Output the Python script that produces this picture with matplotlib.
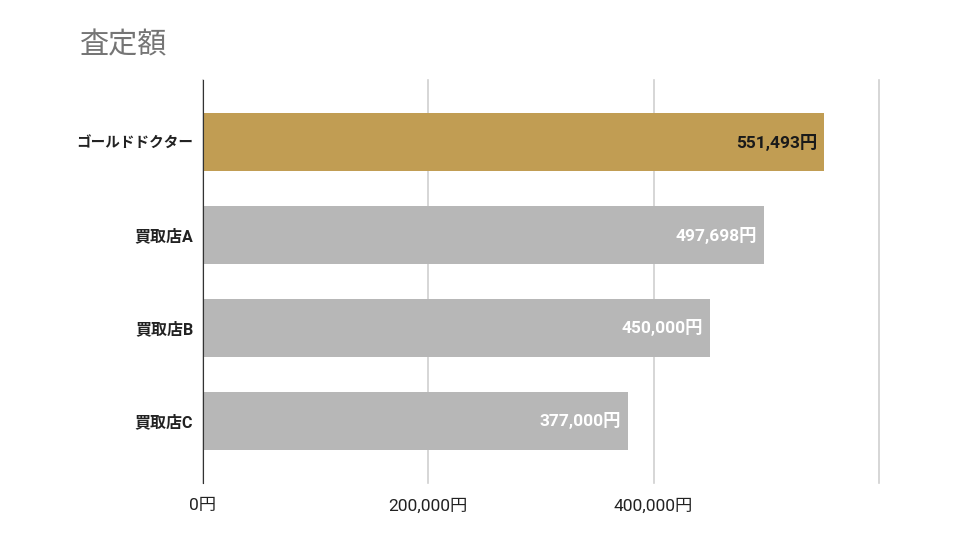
import matplotlib
matplotlib.use("Agg")
import matplotlib.pyplot as plt

plt.rcParams['font.family'] = ['Roboto', 'Noto Sans CJK JP', 'DejaVu Sans']

# dati
shops = ["ゴールドドクター", "買取店A", "買取店B", "買取店C"]
prices = [551493, 497698, 450000, 377000]
bar_colors = ["#C19D53", "#B7B7B7", "#B7B7B7", "#B7B7B7"]
label_colors = ["#1a1a1a", "white", "white", "white"]
xticks = [0, 200000, 400000, 600000]
xtick_labels = ["0円", "200,000円", "400,000円", ""]

fig = plt.figure(figsize=(9.6, 5.4), dpi=100)
ax = fig.add_axes([203 / 960, 57 / 540, 676 / 960, 403 / 540])

y = list(range(len(shops)))
ax.barh(y, prices, height=0.63, color=bar_colors, zorder=3)

for i, (p, c) in enumerate(zip(prices, label_colors)):
    ax.text(p - 6000, i, f"{p:,}円", ha="right", va="center",
            fontsize=12.5, fontweight="bold", color=c, zorder=4)

ax.set_xlim(0, 600000)
ax.set_ylim(3.667, -0.667)
ax.set_xticks(xticks)
ax.set_xticklabels(xtick_labels, fontsize=12.5, color="#222222")
ax.set_yticks(y)
ax.set_yticklabels(shops, fontsize=11.5, fontweight="bold", color="#222222")
# la ゴールドドクター nel riferimento è più stretta
ax.get_yticklabels()[0].set_fontsize(10.5)
ax.tick_params(axis="both", length=0)
ax.tick_params(axis="x", pad=11)
ax.tick_params(axis="y", pad=7)

ax.grid(axis="x", color="#d0d0d0", linewidth=1.2, zorder=0)
for gl in ax.get_xgridlines():
    gl.set_clip_on(False)
for s in ["top", "right", "bottom"]:
    ax.spines[s].set_visible(False)
ax.spines["left"].set_color("#333333")
ax.spines["left"].set_zorder(5)

fig.text(80 / 960, 1 - 45 / 540, "査定額", fontsize=21, color="#757575",
         ha="left", va="center")

fig.savefig("out.png", dpi=100, facecolor="white")
